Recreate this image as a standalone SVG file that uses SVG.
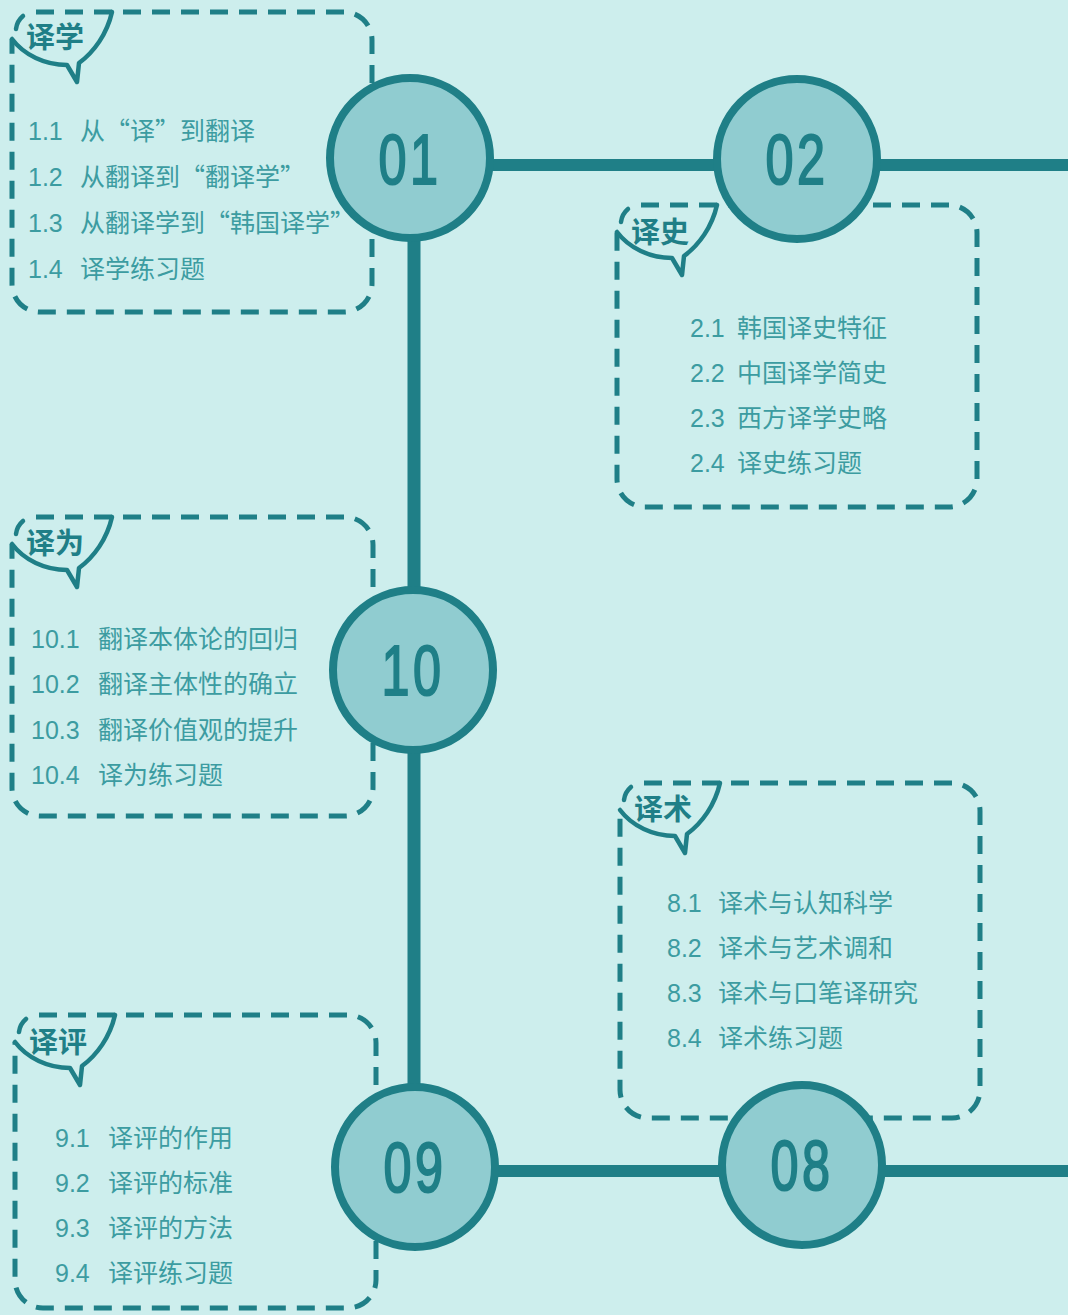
<svg xmlns="http://www.w3.org/2000/svg" width="1068" height="1315" viewBox="0 0 1068 1315">
<defs>
<style>
.box{fill:none;stroke:#1f7f87;stroke-width:5;stroke-dasharray:18 11}
.bub{fill:none;stroke:#1f7f87;stroke-width:4.5;stroke-linejoin:round;stroke-linecap:round}
.lbl{font-family:"Noto Sans CJK SC",sans-serif;font-size:29px;font-weight:700;fill:#1f7f87}
.item{font-family:"Liberation Sans","Noto Sans CJK SC",sans-serif;font-size:25px;fill:#3c9ca1}
.cj{font-family:"Noto Sans CJK SC",sans-serif}
.conn{stroke:#1f7f87;fill:none}
.node{fill:#90ccd0;stroke:#1f7f87;stroke-width:8}
.num{font-family:"Liberation Sans",sans-serif;font-size:70px;fill:#1f7f87;stroke:#1f7f87;stroke-width:2;text-anchor:middle;letter-spacing:5px}
</style>
<path id="bubble" d="M0,27 C12,43 33,53 55,53 L65,70 L67,51 C82,40 95,22 100,0"/>
<path id="paren" d="M11,4 Q5,9 4,17"/>
</defs>
<rect width="1068" height="1315" fill="#cdeeed"/>

<g id="box-yixue" transform="translate(12,12)">
<path class="box" d="M24,0 H332 A28 28 0 0 1 360,28 V272 A28 28 0 0 1 332,300 H28 A28 28 0 0 1 0,272 V27"/>
<use href="#bubble" class="bub"/><use href="#paren" class="bub"/>
<text class="lbl" x="14" y="36">译学</text>
</g>
<g id="list-yixue" class="item">
<text x="28" y="140">1.1<tspan class="cj" x="80">从“译”到翻译</tspan></text>
<text x="28" y="186">1.2<tspan class="cj" x="80">从翻译到“翻译学”</tspan></text>
<text x="28" y="232">1.3<tspan class="cj" x="80">从翻译学到“韩国译学”</tspan></text>
<text x="28" y="278">1.4<tspan class="cj" x="80">译学练习题</tspan></text>
</g>

<g id="box-yishi" transform="translate(617,205)">
<path class="box" d="M24,0 H332 A28 28 0 0 1 360,28 V274 A28 28 0 0 1 332,302 H28 A28 28 0 0 1 0,274 V27"/>
<use href="#bubble" class="bub"/><use href="#paren" class="bub"/>
<text class="lbl" x="14" y="38">译史</text>
</g>
<g id="list-yishi" class="item">
<text x="690" y="337">2.1<tspan class="cj" x="737">韩国译史特征</tspan></text>
<text x="690" y="382">2.2<tspan class="cj" x="737">中国译学简史</tspan></text>
<text x="690" y="427">2.3<tspan class="cj" x="737">西方译学史略</tspan></text>
<text x="690" y="472">2.4<tspan class="cj" x="737">译史练习题</tspan></text>
</g>

<g id="box-yiwei" transform="translate(12,517)">
<path class="box" d="M24,0 H333 A28 28 0 0 1 361,28 V271 A28 28 0 0 1 333,299 H28 A28 28 0 0 1 0,271 V27"/>
<use href="#bubble" class="bub"/><use href="#paren" class="bub"/>
<text class="lbl" x="14" y="37">译为</text>
</g>
<g id="list-yiwei" class="item">
<text x="31" y="648">10.1<tspan class="cj" x="98">翻译本体论的回归</tspan></text>
<text x="31" y="693">10.2<tspan class="cj" x="98">翻译主体性的确立</tspan></text>
<text x="31" y="739">10.3<tspan class="cj" x="98">翻译价值观的提升</tspan></text>
<text x="31" y="784">10.4<tspan class="cj" x="98">译为练习题</tspan></text>
</g>

<g id="box-yishu" transform="translate(620,783)">
<path class="box" d="M24,0 H332 A28 28 0 0 1 360,28 V307 A28 28 0 0 1 332,335 H28 A28 28 0 0 1 0,307 V27"/>
<use href="#bubble" class="bub"/><use href="#paren" class="bub"/>
<text class="lbl" x="14" y="37">译术</text>
</g>
<g id="list-yishu" class="item">
<text x="667" y="912">8.1<tspan class="cj" x="718">译术与认知科学</tspan></text>
<text x="667" y="957">8.2<tspan class="cj" x="718">译术与艺术调和</tspan></text>
<text x="667" y="1002">8.3<tspan class="cj" x="718">译术与口笔译研究</tspan></text>
<text x="667" y="1047">8.4<tspan class="cj" x="718">译术练习题</tspan></text>
</g>

<g id="box-yiping" transform="translate(15,1015)">
<path class="box" d="M24,0 H333 A28 28 0 0 1 361,28 V265 A28 28 0 0 1 333,293 H28 A28 28 0 0 1 0,265 V27"/>
<use href="#bubble" class="bub"/><use href="#paren" class="bub"/>
<text class="lbl" x="14" y="38">译评</text>
</g>
<g id="list-yiping" class="item">
<text x="55" y="1147">9.1<tspan class="cj" x="108">译评的作用</tspan></text>
<text x="55" y="1192">9.2<tspan class="cj" x="108">译评的标准</tspan></text>
<text x="55" y="1237">9.3<tspan class="cj" x="108">译评的方法</tspan></text>
<text x="55" y="1282">9.4<tspan class="cj" x="108">译评练习题</tspan></text>
</g>

<g id="connectors" class="conn">
<line x1="488" y1="165" x2="720" y2="165" stroke-width="12"/>
<line x1="874" y1="165" x2="1068" y2="165" stroke-width="12"/>
<line x1="414" y1="235" x2="414" y2="592" stroke-width="13"/>
<line x1="414" y1="748" x2="414" y2="1090" stroke-width="13"/>
<line x1="492" y1="1171" x2="725" y2="1171" stroke-width="12"/>
<line x1="878" y1="1171" x2="1068" y2="1171" stroke-width="12"/>
</g>

<g id="node-01"><circle class="node" cx="410" cy="158" r="80"/><text class="num" transform="translate(410,184) scale(0.72,1)">01</text></g>
<g id="node-02"><circle class="node" cx="797" cy="159" r="80"/><text class="num" transform="translate(797,184) scale(0.72,1)">02</text></g>
<g id="node-10"><circle class="node" cx="413" cy="670" r="80"/><text class="num" transform="translate(413,695) scale(0.72,1)">10</text></g>
<g id="node-09"><circle class="node" cx="415" cy="1167" r="80"/><text class="num" transform="translate(415,1192) scale(0.72,1)">09</text></g>
<g id="node-08"><circle class="node" cx="802" cy="1165" r="80"/><text class="num" transform="translate(802,1190) scale(0.72,1)">08</text></g>
</svg>
